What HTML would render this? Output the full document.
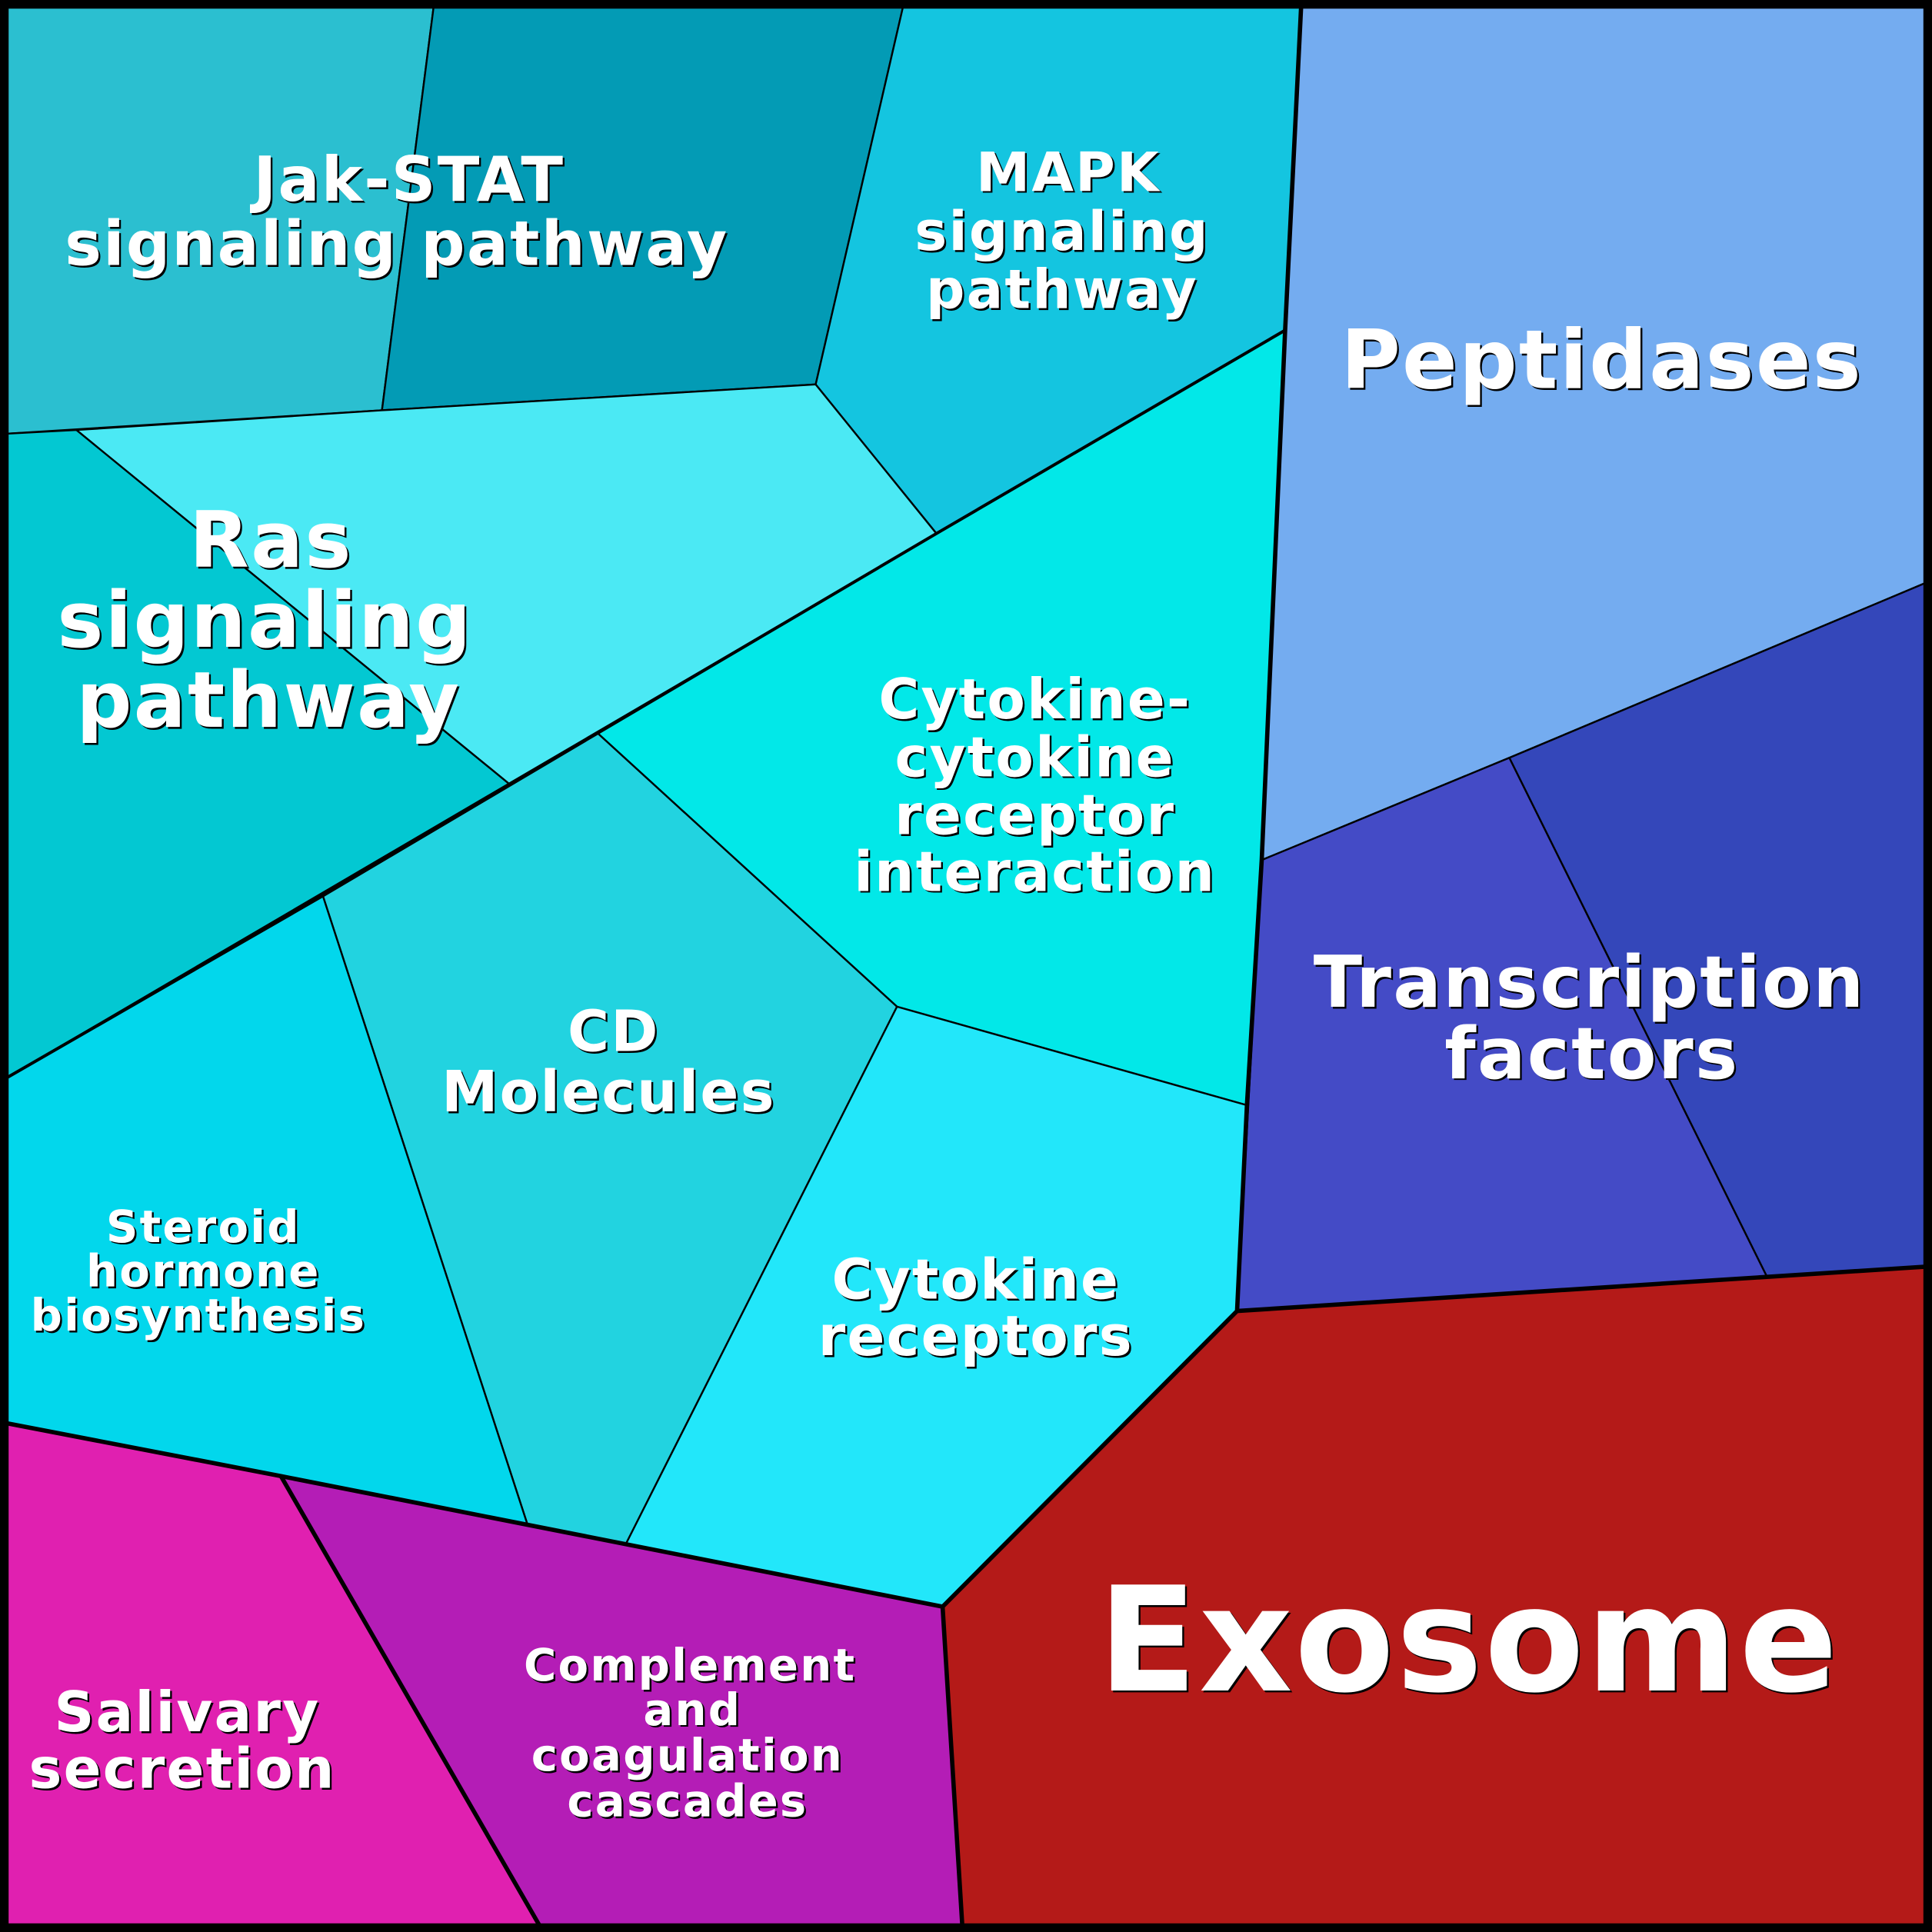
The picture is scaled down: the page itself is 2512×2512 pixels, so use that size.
<!DOCTYPE html>
<html><head><meta charset="utf-8"><style>
html,body{margin:0;padding:0;background:#000}
svg{display:block}
text{font-family:"DejaVu Sans","Liberation Sans",sans-serif;font-weight:bold;text-anchor:middle;letter-spacing:1.4px}
</style></head><body>
<svg width="2512" height="2512" viewBox="0 0 1568 1568" xmlns="http://www.w3.org/2000/svg">
<rect x="0" y="0" width="1568" height="1568" fill="#000"/>
<g stroke="#000" stroke-width="1.5" stroke-linejoin="round">
<polygon fill="#2bbfd0" points="5,5 352,5 310,333 5,352"/>
<polygon fill="#039bb5" points="352,5 733,5 662,312 310,333"/>
<polygon fill="#14c5e0" points="733,5 1056,5 1043,268 760,433 662,312"/>
<polygon fill="#74acf0" points="1056,5 1563,5 1563,473 1225,615 1024,698 1043,268"/>
<polygon fill="#4be9f4" points="62,349 310,333 662,312 760,433 413,636"/>
<polygon fill="#03c8d2" points="5,352 62,349 413,636 5,875"/>
<polygon fill="#02e8e8" points="1043,268 1024,698 1012,897 728,817 485,595 760,433"/>
<polygon fill="#22d3e0" points="485,595 728,817 508,1253 428,1237 262,727"/>
<polygon fill="#02d7ec" points="5,875 262,727 428,1237 228,1198 5,1155"/>
<polygon fill="#22e7fa" points="728,817 1012,897 1004,1064 765,1304 508,1253"/>
<polygon fill="#444bc6" points="1024,698 1225,615 1434,1036 1004,1064"/>
<polygon fill="#3447ba" points="1225,615 1563,473 1563,1028 1434,1036"/>
<polygon fill="#b41a18" points="1004,1064 1563,1028 1563,1563 781,1563 765,1304"/>
<polygon fill="#e020b0" points="5,1155 228,1198 438,1563 5,1563"/>
<polygon fill="#b41db6" points="228,1198 765,1304 781,1563 438,1563"/>
</g>
<g fill="none" stroke="#000" stroke-width="3.5" stroke-linejoin="round">
<polyline points="1056,5 1043,268 1024,698 1012,897 1004,1064 765,1304 781,1563"/>
<polyline points="1004,1064 1563,1028"/>
<polyline points="5,1155 228,1198 765,1304"/>
<polyline points="228,1198 438,1563"/>
<polyline points="5,875 262,727 485,595 760,433 1043,268" stroke-width="2.5"/>
<rect x="3.5" y="3.5" width="1561" height="1561" stroke-width="7"/>
</g>
<g id="t">
<g font-size="50"><text x="332" y="163">Jak-STAT</text><text x="322" y="215">signaling pathway</text></g>
<g font-size="44"><text x="867" y="155">MAPK</text><text x="862" y="203">signaling</text><text x="862" y="250">pathway</text></g>
<g font-size="66"><text x="1300" y="315">Peptidases</text></g>
<g font-size="63"><text x="220" y="460">Ras</text><text x="215" y="525">signaling</text><text x="218" y="590">pathway</text></g>
<g font-size="45"><text x="840" y="583">Cytokine-</text><text x="840" y="630">cytokine</text><text x="840" y="677">receptor</text><text x="840" y="723">interaction</text></g>
<g font-size="58"><text x="1290" y="817">Transcription</text><text x="1292" y="875">factors</text></g>
<g font-size="46"><text x="498" y="853">CD</text><text x="494" y="902">Molecules</text></g>
<g font-size="36"><text x="165" y="1008">Steroid</text><text x="165" y="1044">hormone</text><text x="161" y="1080">biosynthesis</text></g>
<g font-size="45"><text x="792" y="1054">Cytokine</text><text x="792" y="1100">receptors</text></g>
<g font-size="118" letter-spacing="1"><text x="1192" y="1372">Exosome</text></g>
<g font-size="45"><text x="152" y="1405">Salivary</text><text x="148" y="1451">secretion</text></g>
<g font-size="36"><text x="560" y="1364">Complement</text><text x="562" y="1400">and</text><text x="558" y="1437">coagulation</text><text x="558" y="1474">cascades</text></g>
</g>
</svg>
<script>
(function(){var t=document.getElementById('t');var c=t.cloneNode(true);c.removeAttribute('id');c.setAttribute('fill','#000');c.setAttribute('transform','translate(1.5,1.5)');t.parentNode.insertBefore(c,t);t.setAttribute('fill','#fff');})();
</script>
</body></html>
